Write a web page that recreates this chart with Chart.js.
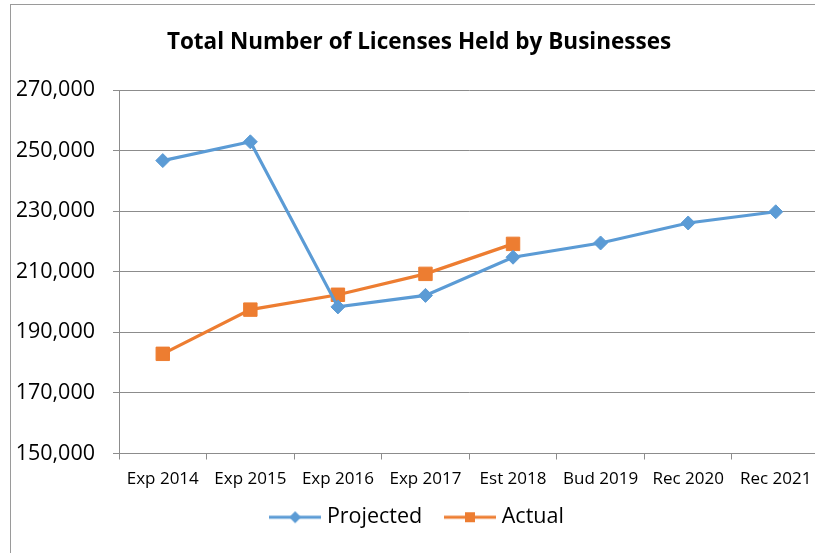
<!DOCTYPE html>
<html>
<head>
<meta charset="utf-8">
<title>Total Number of Licenses Held by Businesses</title>
<script src="https://cdn.jsdelivr.net/npm/chart.js@4/dist/chart.umd.min.js"></script>
<style>
  html, body { margin: 0; padding: 0; background: #fff; overflow: hidden; }
  body { width: 815px; height: 553px; position: relative; }
  .frame {
    position: absolute; left: 10px; top: 4px; right: -5px; bottom: -5px;
    border-left: 1px solid #9a9a9a; border-top: 1px solid #9a9a9a;
  }
  .wrap { position: absolute; left: 0; top: 0; width: 830px; height: 553px; }
</style>
</head>
<body>
<div class="frame"></div>
<div class="wrap"><canvas id="licChart"></canvas></div>
<script>
/* ── DATA ───────────────────────────────────────────────────── */
const categories = ['Exp 2014', 'Exp 2015', 'Exp 2016', 'Exp 2017', 'Est 2018', 'Bud 2019', 'Rec 2020', 'Rec 2021'];
const projected  = [246700, 252900, 198400, 202200, 214800, 219500, 226100, 229800];
const actual     = [182900, 197500, 202400, 209300, 219200];
const yTicks     = [150000, 170000, 190000, 210000, 230000, 250000, 270000];

const BLUE   = '#5B9BD5';
const ORANGE = '#ED7D31';
const GRID   = '#8c8c8c';

/* ── LEGEND SYMBOLS (line + marker, Excel style) ───────────── */
function legendIcon(color, shape) {
  const c = document.createElement('canvas');
  c.width = 52; c.height = 16;
  const g = c.getContext('2d');
  g.strokeStyle = color;
  g.lineWidth = 3;
  g.beginPath(); g.moveTo(0, 8); g.lineTo(52, 8); g.stroke();
  g.fillStyle = color;
  g.beginPath();
  if (shape === 'diamond') {
    g.moveTo(26, 2); g.lineTo(32, 8); g.lineTo(26, 14); g.lineTo(20, 8);
  } else {
    g.rect(21, 3, 10, 10);
  }
  g.fill();
  return c;
}
const icons = [legendIcon(BLUE, 'diamond'), legendIcon(ORANGE, 'square')];

function fmt(v) {
  return v.toLocaleString('en-US');
}

/* ── CHART ──────────────────────────────────────────────────── */
Chart.defaults.font.family = "'Open Sans', sans-serif";
Chart.defaults.color = '#000';

new Chart(document.getElementById('licChart'), {
  type: 'line',
  data: {
    labels: categories,
    datasets: [
      {
        label: 'Projected',
        data: projected,
        borderColor: BLUE,
        backgroundColor: BLUE,
        borderWidth: 3.2,
        pointStyle: 'rectRot',
        pointRadius: 7,
        pointBorderWidth: 1,
        tension: 0,
      },
      {
        label: 'Actual',
        data: actual,
        borderColor: ORANGE,
        backgroundColor: ORANGE,
        borderWidth: 3.2,
        pointStyle: 'rect',
        pointRadius: 9.5,
        pointBorderWidth: 1,
        tension: 0,
      },
    ],
  },
  options: {
    responsive: true,
    maintainAspectRatio: false,
    animation: false,
    layout: { padding: { left: 17, right: 9, top: 0, bottom: 15 } },
    plugins: {
      title: {
        display: true,
        text: 'Total Number of Licenses Held by Businesses',
        font: { size: 22.5, weight: 'bold' },
        color: '#000',
        padding: { top: 29, bottom: 34 },
      },
      legend: {
        position: 'bottom',
        labels: {
          usePointStyle: true,
          pointStyleWidth: 42,
          font: { size: 21.5 },
          padding: 10,
          // trailing spaces widen the gap between the two entries
          generateLabels: chart => chart.data.datasets.map((ds, i) => ({
            text: i === 0 ? ds.label + '   ' : ds.label,
            pointStyle: icons[i],
            fillStyle: ds.borderColor,
            strokeStyle: ds.borderColor,
            lineWidth: 0,
            datasetIndex: i,
            hidden: false,
          })),
        },
      },
      tooltip: { enabled: false },
    },
    scales: {
      x: {
        offset: true,
        grid: { offset: true, drawOnChartArea: false, color: GRID, tickLength: 6 },
        border: { color: GRID },
        ticks: { font: { size: 17 }, padding: 9, maxRotation: 0, autoSkip: false },
        afterFit: s => { s.height = 43; },
      },
      y: {
        min: 150000,
        max: 270000,
        afterBuildTicks: s => { s.ticks = yTicks.map(v => ({ value: v })); },
        grid: { color: GRID, tickLength: 6 },
        border: { color: GRID },
        ticks: { font: { size: 21.5 }, padding: 18, callback: v => fmt(v) },
        afterFit: s => { s.width = 102; },
      },
    },
  },
});
</script>
</body>
</html>
